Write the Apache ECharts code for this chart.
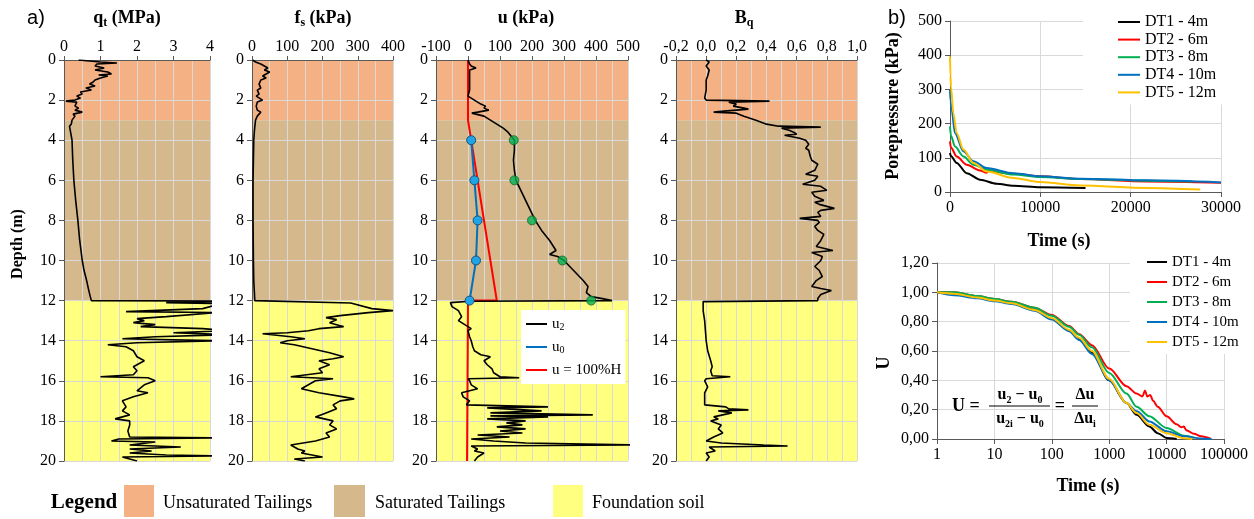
<!DOCTYPE html>
<html><head><meta charset="utf-8">
<script src="https://cdn.jsdelivr.net/npm/echarts@6/dist/echarts.min.js"></script>
<style>html,body{margin:0;padding:0;background:#fff}#c{width:1254px;height:519px}</style>
</head><body><div id="c"></div>
<script>
// ---------------- DATA ----------------
const layerNames = ['Unsaturated Tailings', 'Saturated Tailings', 'Foundation soil'];
const layerTop = [0, 3, 12];
const layerBottom = [3, 12, 20];

// [depth (m), qt (MPa)]
const qtProfile = [[0,0.4],[0.05,0.7],[0.1,1.0],[0.15,1.45],[0.2,0.9],[0.3,0.85],[0.4,1.1],[0.5,0.85],[0.6,1.2],[0.7,1.3],[0.75,0.95],[0.8,1.2],[0.9,1.0],[1.0,0.85],[1.1,0.8],[1.2,0.7],[1.3,0.85],[1.4,0.6],[1.5,0.75],[1.6,0.45],[1.7,0.5],[1.8,0.35],[1.9,0.45],[2.0,0.3],[2.05,0.05],[2.1,0.35],[2.3,0.3],[2.4,0.4],[2.5,0.3],[2.6,0.5],[2.7,0.25],[2.8,0.3],[3.0,0.22],[3.2,0.2],[3.3,0.15],[3.35,0.2],[4,0.22],[5,0.24],[6,0.27],[7,0.32],[8,0.38],[9,0.43],[10,0.5],[10.5,0.55],[11,0.62],[11.5,0.68],[11.8,0.72],[12.0,0.75],[12.02,4.5],[12.1,2.8],[12.15,4.5],[12.2,4.2],[12.4,3.8],[12.55,1.7],[12.6,4.2],[12.8,2.8],[12.9,2.0],[13.0,2.2],[13.1,1.9],[13.2,2.5],[13.3,2.1],[13.4,3.8],[13.5,4.5],[13.6,3.0],[13.7,4.5],[13.8,2.5],[13.9,1.6],[14.0,4.2],[14.1,2.0],[14.2,1.2],[14.3,1.7],[14.5,1.9],[14.8,2.0],[15.0,2.2],[15.3,1.9],[15.5,2.0],[15.7,1.9],[15.8,1.0],[15.85,2.3],[16.0,2.5],[16.2,2.2],[16.5,2.0],[16.6,2.3],[16.8,1.9],[17.0,1.6],[17.3,1.7],[17.5,1.6],[17.7,1.8],[17.9,1.4],[18.0,1.8],[18.2,1.8],[18.5,1.75],[18.8,1.8],[18.85,4.2],[18.9,1.5],[19.0,1.3],[19.05,2.5],[19.2,1.8],[19.3,3.2],[19.4,1.8],[19.5,2.4],[19.6,1.8],[19.7,2.8],[19.75,4.2],[19.8,1.6],[20,2.0]];

// [depth (m), fs (kPa)]
const fsProfile = [[0,2],[0.1,10],[0.2,25],[0.3,35],[0.4,45],[0.5,35],[0.6,50],[0.7,40],[0.8,30],[0.9,40],[1.0,25],[1.2,20],[1.4,25],[1.5,15],[1.7,20],[1.8,12],[2.0,30],[2.1,15],[2.3,12],[2.5,15],[2.6,25],[2.8,15],[3.0,10],[3.5,7],[4,5],[5,4],[6,3],[8,3],[10,4],[11,5],[12,8],[12.08,10],[12.12,280],[12.4,340],[12.5,400],[12.6,330],[12.75,250],[12.85,210],[12.95,240],[13.1,220],[13.3,260],[13.4,190],[13.5,160],[13.6,100],[13.65,30],[13.8,110],[13.9,150],[14.0,100],[14.1,80],[14.2,120],[14.4,170],[14.6,220],[14.8,260],[14.9,230],[15.0,190],[15.2,220],[15.4,190],[15.6,200],[15.8,110],[15.9,230],[16.0,180],[16.2,160],[16.4,140],[16.6,190],[16.8,260],[16.9,290],[17.0,250],[17.2,230],[17.4,240],[17.6,210],[17.8,180],[18.0,230],[18.2,220],[18.4,240],[18.6,210],[18.8,220],[19.0,180],[19.2,110],[19.4,130],[19.5,150],[19.6,140],[19.8,200],[19.9,120],[20,150]];

// [depth (m), u2 (kPa)]
const u2Profile = [[0,0],[0.2,5],[0.3,10],[0.4,25],[0.5,5],[1.0,5],[1.5,5],[1.8,0],[2.0,20],[2.1,30],[2.2,40],[2.3,55],[2.4,50],[2.5,65],[2.6,30],[2.65,12],[2.8,50],[3.0,70],[3.2,90],[3.4,110],[3.6,125],[3.8,135],[4.0,145],[4.5,145],[5.0,142],[5.5,145],[6.0,150],[6.5,165],[7.0,180],[7.5,195],[8.0,210],[8.5,230],[9.0,255],[9.5,275],[9.7,255],[9.8,280],[10.0,300],[10.5,330],[11.0,360],[11.3,375],[11.6,370],[11.8,385],[11.9,420],[12.0,450],[12.03,5],[12.1,-55],[12.3,-50],[12.5,-30],[12.8,-20],[13.0,-30],[13.2,-10],[13.4,10],[13.5,0],[13.8,5],[14.0,10],[14.3,15],[14.5,20],[14.7,40],[14.8,70],[15.0,50],[15.2,60],[15.4,75],[15.6,80],[15.8,100],[15.85,160],[15.9,0],[16.0,5],[16.2,10],[16.4,30],[16.6,-20],[16.8,-15],[17.0,5],[17.2,-5],[17.3,250],[17.35,60],[17.5,230],[17.6,70],[17.7,390],[17.75,70],[17.8,250],[17.9,60],[18.0,180],[18.1,120],[18.2,170],[18.3,90],[18.4,180],[18.5,100],[18.6,170],[18.7,30],[18.8,130],[18.9,10],[19.0,80],[19.1,180],[19.2,520],[19.25,10],[19.4,30],[19.5,20],[19.6,50],[19.8,30],[20,20]];

// [depth (m), u0 (kPa)]
const u0Points = [[4,10],[6,20],[8,30],[10,25],[12,5]];
// [depth (m), u2 at start of dissipation (kPa)]
const u2iPoints = [[4,143],[6,145],[8,200],[10,295],[12,385]];
// [depth (m), u = 100%H (kPa)]
const hydroLine = [[0,0],[3,0],[12,90],[12,0],[20,-3]];

// [depth (m), Bq]
const bqProfile = [[0,0.0],[0.1,0.02],[0.3,0.0],[0.5,0.02],[0.8,0.01],[1.0,0.0],[1.5,0.0],[1.9,-0.01],[2.0,0.0],[2.05,0.42],[2.1,0.15],[2.2,0.2],[2.3,0.18],[2.4,0.25],[2.45,0.28],[2.55,0.12],[2.6,0.05],[2.65,0.2],[2.8,0.25],[3.0,0.33],[3.2,0.4],[3.3,0.48],[3.35,0.76],[3.4,0.5],[3.5,0.55],[3.6,0.58],[3.7,0.6],[3.75,0.52],[3.9,0.62],[4.0,0.66],[4.2,0.68],[4.4,0.66],[4.5,0.68],[4.8,0.69],[5.0,0.7],[5.2,0.74],[5.5,0.72],[5.7,0.66],[5.8,0.74],[6.0,0.72],[6.2,0.64],[6.3,0.76],[6.5,0.8],[6.6,0.7],[6.8,0.72],[7.0,0.78],[7.1,0.72],[7.2,0.75],[7.4,0.85],[7.5,0.76],[7.6,0.74],[7.8,0.76],[7.9,0.62],[8.0,0.74],[8.1,0.75],[8.3,0.72],[8.5,0.74],[8.7,0.78],[9.0,0.76],[9.3,0.73],[9.5,0.84],[9.6,0.7],[9.8,0.77],[10.0,0.76],[10.3,0.72],[10.5,0.75],[10.8,0.77],[11.0,0.73],[11.3,0.7],[11.4,0.76],[11.5,0.83],[11.7,0.76],[11.9,0.74],[12.0,0.74],[12.05,-0.02],[12.5,-0.02],[13,-0.01],[14,0.0],[14.5,0.01],[15.0,0.03],[15.3,0.04],[15.5,0.03],[15.75,0.04],[15.8,0.16],[15.9,0.0],[16.0,-0.01],[16.3,0.01],[16.6,-0.01],[17.0,-0.01],[17.2,-0.01],[17.3,0.13],[17.4,0.15],[17.45,0.28],[17.5,0.08],[17.6,0.17],[17.8,0.05],[17.9,0.08],[18.0,0.03],[18.2,0.1],[18.4,0.08],[18.6,0.11],[18.8,0.05],[19.0,0.0],[19.1,0.1],[19.2,0.38],[19.25,0.54],[19.3,0.02],[19.5,0.06],[19.6,0.0],[19.8,0.02],[20,0.0]];

// Dissipation tests
const dtNames = ['DT1 - 4m', 'DT2 - 6m', 'DT3 - 8m', 'DT4 - 10m', 'DT5 - 12m'];
// [time (s), porepressure (kPa)]
const pp_DT1 = [[0,114],[100,105],[740,85],[1850,55],[3325,36],[5170,24],[7020,18],[10000,14],[15000,12]];
const pp_DT2 = [[0,148],[100,130],[740,104],[1850,80],[3325,63],[4060,56],[4300,65],[4700,60],[7020,53],[10000,46],[14400,38],[21800,31],[30000,27]];
const pp_DT3 = [[0,192],[100,165],[550,133],[1480,104],[2590,80],[4060,65],[7020,51],[10000,44],[14400,38],[21800,33],[26800,31]];
const pp_DT4 = [[0,299],[60,265],[185,240],[550,172],[1480,119],[2590,90],[4060,70],[7020,55],[10000,46],[14400,39],[21800,34],[30000,28]];
const pp_DT5 = [[0,396],[50,340],[110,308],[370,230],[740,172],[1480,124],[2590,85],[4060,60],[7020,41],[10000,29],[14400,19],[21800,12],[27700,7]];
// [time (s), U]
const U_DT1 = [[1,1],[2,0.99],[5,0.965],[10,0.945],[20,0.925],[50,0.88],[100,0.82],[200,0.74],[300,0.68],[500,0.59],[1000,0.40],[2000,0.245],[3000,0.165],[5000,0.086],[7000,0.04],[10000,0.007],[15000,0]];
const U_DT2 = [[1,1],[2,1],[5,0.975],[10,0.955],[20,0.935],[50,0.895],[100,0.845],[200,0.77],[300,0.715],[500,0.64],[1000,0.48],[2000,0.36],[3000,0.31],[3800,0.29],[4200,0.33],[4600,0.29],[5200,0.3],[5800,0.26],[7000,0.22],[10000,0.155],[15000,0.1],[18000,0.08],[20000,0.085],[22000,0.06],[30000,0.035],[40000,0.018],[60000,0]];
const U_DT3 = [[1,1],[2,1],[5,0.975],[10,0.955],[20,0.935],[50,0.895],[100,0.84],[200,0.765],[300,0.71],[500,0.625],[1000,0.45],[2000,0.31],[3000,0.22],[5000,0.155],[10000,0.075],[20000,0.023],[30000,0.008]];
const U_DT4 = [[1,1],[2,0.98],[5,0.96],[10,0.94],[20,0.92],[50,0.875],[100,0.815],[200,0.735],[300,0.675],[500,0.58],[1000,0.4],[2000,0.245],[3000,0.19],[5000,0.12],[10000,0.052],[20000,0.018],[40000,0.004],[60000,0]];
const U_DT5 = [[1,1],[2,0.99],[5,0.965],[10,0.945],[20,0.925],[50,0.88],[100,0.825],[200,0.745],[300,0.69],[500,0.6],[1000,0.41],[2000,0.245],[3000,0.177],[5000,0.097],[10000,0.04],[20000,0.005],[28000,0]];

// ---------------- STYLE ----------------
const FONT = 'Liberation Serif';
const SANS = 'Liberation Sans';
const layerColors = ['#F4B183', '#D5B88C', '#FFFF80'];
const dtColors = ['#000000', '#FF0000', '#00B050', '#0070C0', '#FFC000'];
const GRIDC = '#D9D9D9';
const AXC = '#595959';

const chart = echarts.init(document.getElementById('c'), null, {renderer: 'canvas', width: 1254, height: 519});

const grids = [
  {left: 64, top: 60, width: 146, height: 401},
  {left: 252, top: 60, width: 141, height: 401},
  {left: 436, top: 60, width: 192, height: 401},
  {left: 676, top: 60, width: 181, height: 401},
  {left: 950, top: 21, width: 271, height: 171},
  {left: 937, top: 263, width: 287, height: 176}
];

const labelStyle = {fontFamily: FONT, fontSize: 16, color: '#000'};
const comma = d => v => v.toFixed(d).replace('.', ',');
const plain = v => String(Math.round(v));

function depthX(gi, min, max, interval, fmt) {
  return {
    gridIndex: gi, type: 'value', position: 'top', min, max, interval, z: 1,
    axisLine: {show: true, onZero: false, lineStyle: {color: AXC}},
    axisTick: {show: true, length: 4, lineStyle: {color: AXC}},
    axisLabel: Object.assign({margin: 5, formatter: fmt || plain}, labelStyle),
    splitLine: {show: true, lineStyle: {color: GRIDC}},
    minorTick: {show: false, splitNumber: 2},
    minorSplitLine: {show: true, lineStyle: {color: GRIDC}}
  };
}
function depthY(gi) {
  return {
    gridIndex: gi, type: 'value', inverse: true, min: 0, max: 20, interval: 2, z: 1,
    axisLine: {show: true, onZero: false, lineStyle: {color: AXC}},
    axisTick: {show: true, length: 5, lineStyle: {color: AXC}},
    axisLabel: Object.assign({margin: 8, formatter: plain}, labelStyle),
    splitLine: {show: true, lineStyle: {color: GRIDC}}
  };
}

const bandArea = {
  silent: true, z: 0,
  data: layerTop.map((t, i) => [{yAxis: t, itemStyle: {color: layerColors[i], opacity: 1}}, {yAxis: layerBottom[i]}])
};

const toXY = arr => arr.map(p => [p[1], p[0]]);

const xAxes = [
  depthX(0, 0, 4, 1),
  depthX(1, 0, 400, 100),
  depthX(2, -100, 500, 100),
  depthX(3, -0.2, 1.0, 0.2, comma(1)),
  {
    gridIndex: 4, type: 'value', min: 0, max: 30000, interval: 10000, z: 1,
    axisLine: {show: true, onZero: false, lineStyle: {color: AXC}},
    axisTick: {show: true, length: 5, lineStyle: {color: AXC}},
    axisLabel: Object.assign({margin: 8, formatter: plain}, labelStyle),
    splitLine: {show: true, lineStyle: {color: GRIDC}}
  },
  {
    gridIndex: 5, type: 'log', logBase: 10, min: 1, max: 100000, z: 1,
    axisLine: {show: true, onZero: false, lineStyle: {color: AXC}},
    axisTick: {show: true, length: 5, lineStyle: {color: AXC}},
    axisLabel: Object.assign({margin: 8, formatter: plain}, labelStyle),
    splitLine: {show: true, lineStyle: {color: GRIDC}}
  }
];
const yAxes = [
  depthY(0), depthY(1), depthY(2), depthY(3),
  {
    gridIndex: 4, type: 'value', min: 0, max: 500, interval: 100, z: 1,
    axisLine: {show: true, onZero: false, lineStyle: {color: AXC}},
    axisTick: {show: true, length: 5, lineStyle: {color: AXC}},
    axisLabel: Object.assign({margin: 8, formatter: plain}, labelStyle),
    splitLine: {show: true, lineStyle: {color: GRIDC}}
  },
  {
    gridIndex: 5, type: 'value', min: 0, max: 1.2, interval: 0.2, z: 1,
    axisLine: {show: true, onZero: false, lineStyle: {color: AXC}},
    axisTick: {show: true, length: 5, lineStyle: {color: AXC}},
    axisLabel: Object.assign({margin: 8, formatter: comma(2)}, labelStyle),
    splitLine: {show: true, lineStyle: {color: GRIDC}}
  }
];

function profile(gi, data, name) {
  return {
    type: 'line', name: name, xAxisIndex: gi, yAxisIndex: gi, data: toXY(data),
    symbol: 'none', z: 3, animation: false,
    lineStyle: {color: '#000', width: 1.6}, itemStyle: {color: '#000'},
    markArea: bandArea
  };
}

const series = [
  profile(0, qtProfile, 'qt'),
  profile(1, fsProfile, 'fs'),
  profile(3, bqProfile, 'Bq'),
  {type: 'line', name: 'u = 100%H', xAxisIndex: 2, yAxisIndex: 2, data: toXY(hydroLine), symbol: 'none', z: 3,
   lineStyle: {color: '#FF0000', width: 2}, itemStyle: {color: '#FF0000'}, markArea: bandArea},
  {type: 'line', name: 'u2', xAxisIndex: 2, yAxisIndex: 2, data: toXY(u2Profile), symbol: 'none', z: 4,
   lineStyle: {color: '#000', width: 1.6}, itemStyle: {color: '#000'}},
  {type: 'line', name: 'u0', xAxisIndex: 2, yAxisIndex: 2, data: toXY(u0Points), symbol: 'circle', symbolSize: 9, z: 5,
   lineStyle: {color: '#0070C0', width: 2}, itemStyle: {color: '#1FA5E6', borderColor: '#1F4E79', borderWidth: 1}},
  {type: 'scatter', name: 'u2i', xAxisIndex: 2, yAxisIndex: 2, data: toXY(u2iPoints), symbol: 'circle', symbolSize: 9, z: 5,
   itemStyle: {color: '#00B050', borderColor: '#1E5E2E', borderWidth: 1}}
];

const ppData = [pp_DT1, pp_DT2, pp_DT3, pp_DT4, pp_DT5];
const UData = [U_DT1, U_DT2, U_DT3, U_DT4, U_DT5];
dtNames.forEach((n, i) => {
  series.push({type: 'line', name: n, xAxisIndex: 4, yAxisIndex: 4, data: ppData[i], symbol: 'none', z: 3,
    smooth: 0.3, smoothMonotone: 'x', lineStyle: {color: dtColors[i], width: 2}, itemStyle: {color: dtColors[i]}});
});
dtNames.forEach((n, i) => {
  series.push({type: 'line', name: n, xAxisIndex: 5, yAxisIndex: 5, data: UData[i], symbol: 'none', z: 3,
    smooth: 0.3, smoothMonotone: 'x', lineStyle: {color: dtColors[i], width: 2}, itemStyle: {color: dtColors[i]}});
});

const legendText = {fontFamily: FONT, fontSize: 16, color: '#000'};
const flat = c => ({color: c, borderWidth: 0});
const legends = [
  {
    orient: 'vertical', left: 521, top: 310, padding: [6, 4, 6, 5], backgroundColor: '#fff',
    itemWidth: 21, itemHeight: 2, itemGap: 7, icon: 'rect', selectedMode: false,
    textStyle: {fontFamily: FONT, color: '#000', lineHeight: 16, fontSize: 15, rich: {
      m: {fontFamily: FONT, fontSize: 15, color: '#000', lineHeight: 16},
      s: {fontFamily: FONT, fontSize: 10, color: '#000', verticalAlign: 'bottom', lineHeight: 16, padding: [6, 0, 0, 0]}
    }},
    formatter: n => n === 'u2' ? '{m|u}{s|2}' : (n === 'u0' ? '{m|u}{s|0}' : '{m|' + n + '}'),
    data: [{name: 'u2', itemStyle: flat('#000')}, {name: 'u0', itemStyle: flat('#0070C0')}, {name: 'u = 100%H', itemStyle: flat('#FF0000')}]
  },
  {
    orient: 'vertical', left: 1083, top: 12, padding: [2, 10, 4, 35], backgroundColor: '#fff',
    itemWidth: 22, itemHeight: 2, itemGap: 1.6, icon: 'rect', selectedMode: false,
    textStyle: Object.assign({lineHeight: 16}, legendText),
    data: dtNames
  },
  {
    orient: 'vertical', left: 1130, top: 252, padding: [2, 10, 4, 17], backgroundColor: '#fff',
    itemWidth: 20, itemHeight: 2, itemGap: 4, icon: 'rect', selectedMode: false,
    textStyle: Object.assign({lineHeight: 16}, legendText, {fontSize: 15}),
    data: dtNames
  }
];

function txt(x, y, text, opt) {
  return {type: 'text', x: x, y: y, silent: true, z: 10,
    style: Object.assign({text: text, fontFamily: FONT, fontSize: 18, fontWeight: 'bold', fill: '#000',
      align: 'center', verticalAlign: 'middle', textAlign: 'center', textVerticalAlign: 'middle'}, opt || {})};
}
const subRich = (size, w) => ({
  m: {fontFamily: FONT, fontSize: size, fontWeight: w, fill: '#000', color: '#000', lineHeight: size + 4},
  s: {fontFamily: FONT, fontSize: Math.round(size * 0.65), fontWeight: w, fill: '#000', color: '#000', lineHeight: size + 4, verticalAlign: 'bottom', padding: [Math.round(size * 0.45), 0, 0, 0]}
});

const graphics = [
  txt(36, 18, 'a)', {fontFamily: SANS, fontWeight: 'normal', fontSize: 20}),
  txt(897, 18, 'b)', {fontFamily: SANS, fontWeight: 'normal', fontSize: 20}),
  txt(127, 18, '{m|q}{s|t}{m| (MPa)}', {rich: subRich(18, 'bold')}),
  txt(323, 18, '{m|f}{s|s}{m| (kPa)}', {rich: subRich(18, 'bold')}),
  txt(526, 18, 'u (kPa)'),
  txt(744, 18, '{m|B}{s|q}', {rich: subRich(18, 'bold')}),
  txt(18, 244, 'Depth (m)', {fontSize: 16}),
  txt(893, 106, 'Porepressure (kPa)', {fontSize: 18}),
  txt(1059, 241, 'Time (s)'),
  txt(1088, 486, 'Time (s)'),
  txt(884, 363, 'U'),
  // formula
  txt(966, 406, 'U ='),
  txt(1020, 395, '{m|u}{s|2}{m| − u}{s|0}', {rich: subRich(16, 'bold')}),
  {type: 'line', silent: true, z: 10, shape: {x1: 989, y1: 406, x2: 1050, y2: 406}, style: {stroke: '#000', lineWidth: 1}},
  txt(1020, 419, '{m|u}{s|2i}{m| − u}{s|0}', {rich: subRich(16, 'bold')}),
  txt(1060, 406, '='),
  txt(1085, 395, 'Δu', {fontSize: 16}),
  {type: 'line', silent: true, z: 10, shape: {x1: 1072, y1: 406, x2: 1098, y2: 406}, style: {stroke: '#000', lineWidth: 1}},
  txt(1085, 419, '{m|Δu}{s|i}', {rich: subRich(16, 'bold')}),
  // bottom legend
  txt(84, 503, 'Legend', {fontSize: 21}),
  {type: 'rect', silent: true, shape: {x: 124, y: 485, width: 30, height: 32}, style: {fill: layerColors[0]}},
  txt(163, 503, layerNames[0], {fontWeight: 'normal', align: 'left', textAlign: 'left'}),
  {type: 'rect', silent: true, shape: {x: 334, y: 485, width: 31, height: 32}, style: {fill: layerColors[1]}},
  txt(375, 503, layerNames[1], {fontWeight: 'normal', align: 'left', textAlign: 'left'}),
  {type: 'rect', silent: true, shape: {x: 553, y: 485, width: 30, height: 32}, style: {fill: layerColors[2]}},
  txt(592, 503, layerNames[2], {fontWeight: 'normal', align: 'left', textAlign: 'left'})
];
graphics[6].rotation = Math.PI / 2;
graphics[7].rotation = Math.PI / 2;
graphics[10].rotation = Math.PI / 2;

chart.setOption({
  animation: false,
  backgroundColor: '#fff',
  grid: grids,
  xAxis: xAxes,
  yAxis: yAxes,
  legend: legends,
  series: series,
  graphic: graphics
});
</script>
</body></html>
